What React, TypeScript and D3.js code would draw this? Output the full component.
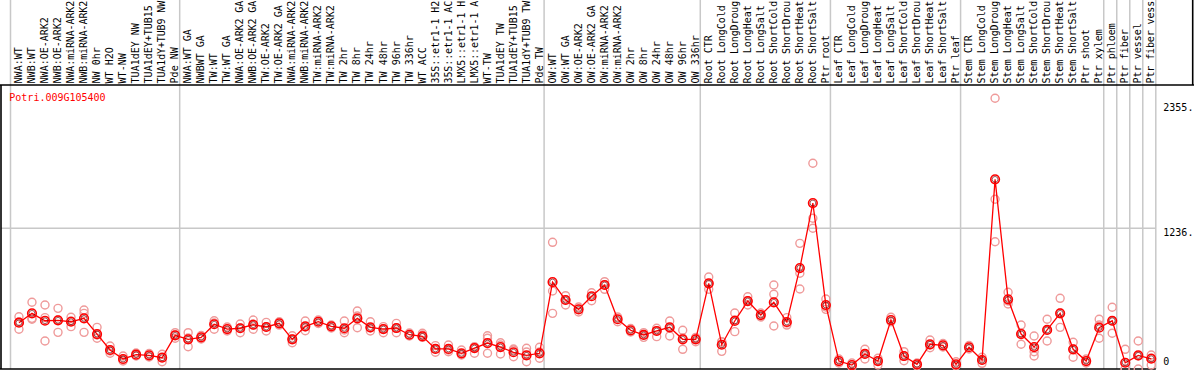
import React from 'react';
import * as d3 from 'd3';

const groupNW = ["NWA:WT","NWB:WT","NWA:OE-ARK2","NWB:OE-ARK2","NWA:miRNA-ARK2","NWB:miRNA-ARK2","NW 0hr","WT H2O","WT-NW","TUA1dEY NW","TUA1dEY+TUB15","TUA1dY+TUB9 NW","Pde NW"];
const groupTW = ["NWA:WT GA","NWBWT GA","TW:WT","TW:WT GA","NWA:OE-ARK2 GA","NWB:OE-ARK2 GA","TW:OE-ARK2","TW:OE-ARK2 GA","NWA:miRNA-ARK2","NWB:miRNA-ARK2","TW:miRNA-ARK2","TW:miRNA-ARK2","TW 2hr","TW 8hr","TW 24hr","TW 48hr","TW 96hr","TW 336hr","WT ACC","35S::etr1-1 H2","35S::etr1-1 AC","LMX5::etr1-1 H","LMX5::etr1-1 A","WT-TW","TUA1dEY TW","TUA1dEY+TUB15","TUA1dY+TUB9 TW","Pde TW"];
const groupOW = ["OW:WT","OW:WT GA","OW:OE-ARK2","OW:OE-ARK2 GA","OW:miRNA-ARK2","OW:miRNA-ARK2","OW 2hr","OW 8hr","OW 24hr","OW 48hr","OW 96hr","OW 336hr"];
const groupRoot = ["Root CTR","Root LongCold","Root LongDroug","Root LongHeat","Root LongSalt","Root ShortCold","Root ShortDrou","Root ShortHeat","Root ShortSalt","Ptr root"];
const groupLeaf = ["Leaf CTR","Leaf LongCold","Leaf LongDroug","Leaf LongHeat","Leaf LongSalt","Leaf ShortCold","Leaf ShortDrou","Leaf ShortHeat","Leaf ShortSalt","Ptr leaf"];
const groupStem = ["Stem CTR","Stem LongCold","Stem LongDroug","Stem LongHeat","Stem LongSalt","Stem ShortCold","Stem ShortDrou","Stem ShortHeat","Stem ShortSalt","Ptr shoot","Ptr xylem"];
const groupPhloem = ["Ptr phloem"];
const groupFiber = ["Ptr fiber"];
const groupVessel = ["Ptr vessel"];
const groupFiberVessel = ["Ptr fiber vess"];

const groups = [groupNW, groupTW, groupOW, groupRoot, groupLeaf, groupStem, groupPhloem, groupFiber, groupVessel, groupFiberVessel];
const categories = groups.flat();

const geneName = "Potri.009G105400";
const axisLabels = [2355, 1236, 0];
const gridValues = [1236];

const means = [
  407, 489, 424, 428, 415, 445, 307, 167, 88, 126, 120, 99, 296,
  261, 278, 393, 351, 358, 389, 369, 401, 261, 375, 415, 375, 358, 445, 366, 351, 360, 301, 287, 176, 176, 138, 184, 228, 193, 147, 120, 138,
  764, 606, 524, 639, 738, 437, 340, 299, 334, 366, 261, 261,
  753, 213, 422, 597, 474, 586, 413, 887, 1458, 562,
  70, 35, 132, 70, 430, 114, 41, 217, 208, 41,
  191, 79, 1666, 612, 307, 193, 343, 489, 173, 70, 363,
  424, 55, 120, 90
];

const reps = [
  [459, 413, 349], [586, 445, 437], [562, 451, 246], [533, 430, 322], [454, 422, 372], [518, 489, 322], [366, 299, 270], [202, 158, 138], [114, 79, 70], [141, 114], [136, 105], [129, 105, 64], [319, 299, 270],
  [319, 272, 196], [294, 264], [424, 404, 349], [369, 334], [395, 360, 319], [430, 386, 349], [410, 369, 334], [415, 386], [292, 264, 231], [422, 369, 336], [430, 400], [386, 360], [422, 343, 319], [509, 466, 363], [415, 360, 334], [372, 351, 319], [401, 360, 319], [316, 290], [314, 299, 278], [205, 176, 147], [211, 167, 152], [167, 132, 123], [196, 184, 138], [292, 270, 138], [231, 211, 132], [176, 167, 108], [182, 149, 64], [191, 149, 94],
  [1113, 685, 489], [644, 606, 562], [545, 501], [670, 600], [767, 738, 700], [457, 415], [356, 325], [319, 299, 278], [358, 334, 284], [422, 360, 290], [340, 272, 173], [278, 264, 240],
  [808, 747, 700], [240, 237, 155], [492, 430, 328], [635, 597, 562], [492, 457], [738, 656, 378], [451, 404, 386], [1104, 841, 703], [1807, 1324, 1236], [615, 545, 524],
  [88, 53], [53, 18], [173, 132, 88], [94, 70, 35], [454, 415], [152, 114, 73], [53, 26], [255, 211, 187], [224, 193], [64, 26],
  [206, 176], [103, 79, 50], [2378, 1491, 1118], [674, 597, 571], [386, 316, 217], [290, 152, 114], [437, 343, 246], [621, 492, 366], [235, 176, 103], [88, 53], [437, 386, 270],
  [542, 422, 314], [173, 0, 0], [246, 114, 0], [123, 97, 35]
];

const W = 1194;
const H = 370;
const plotLeft = 10.5;
const plotRight = 1155.8;
const headerY = 85;
const bottomY = 369;

export default function App() {
  const x = d3.scaleBand<number>().domain(d3.range(categories.length)).range([plotLeft, plotRight]).padding(0);
  const bw = x.bandwidth();
  const px = (i: number) => (x(i) as number) + bw * 0.65;
  const y = d3.scaleLinear().domain([0, 1236]).range([bottomY, 228.3]);

  const boundaries: number[] = [0];
  let acc = 0;
  groups.forEach((g) => { acc += g.length; boundaries.push(acc); });
  const bx = (k: number) => (k < categories.length ? (x(k) as number) : plotRight);

  const line = d3.line<number>().x((_, i) => px(i)).y((d) => y(d));

  const repColor = '#ef9a9a';
  const red = '#ff0000';

  return (
    <svg width={W} height={H} style={{ position: 'absolute', left: 0, top: 0, background: '#fff' }} fontFamily="'DejaVu Sans Mono', monospace" fontSize={10}>
      <rect x={0} y={0} width={W} height={H} fill="#fff" />
      {boundaries.map((k, i) => (
        <line key={'v' + i} x1={bx(k)} x2={bx(k)} y1={0} y2={bottomY} stroke="#c8c8c8" strokeWidth={1.5} />
      ))}
      {gridValues.map((v) => (
        <line key={'h' + v} x1={1} x2={plotRight} y1={y(v)} y2={y(v)} stroke="#c8c8c8" strokeWidth={1.5} />
      ))}
      <line x1={0} x2={W} y1={headerY} y2={headerY} stroke="#000" strokeWidth={1.6} />
      <line x1={1} x2={1} y1={headerY} y2={bottomY} stroke="#000" strokeWidth={1.6} />
      <line x1={0} x2={plotRight} y1={bottomY} y2={bottomY} stroke="#000" strokeWidth={1.6} />
      <line x1={W - 1.3} x2={W - 1.3} y1={0} y2={headerY} stroke="#000" strokeWidth={1.6} />
      {categories.map((c, i) => (
        <text
          key={'c' + i}
          transform={`translate(${(x(i) as number) + 11.6},83.4) rotate(-90)`}
          fill="#000"
          {...(c.length >= 14 ? { textLength: 82.6, lengthAdjust: 'spacing' } : {})}
        >{c}</text>
      ))}
      {reps.map((rs, i) => rs.map((r, j) => (
        <circle key={`r${i}-${j}`} cx={px(i)} cy={y(r)} r={4} fill="none" stroke={repColor} strokeWidth={1.4} />
      )))}
      <path d={line(means) || ''} fill="none" stroke={red} strokeWidth={1.3} />
      {means.map((m, i) => (
        <g key={'m' + i}>
          <circle cx={px(i)} cy={y(m)} r={4.3} fill="none" stroke={red} strokeWidth={1.6} />
          <circle cx={px(i)} cy={y(m)} r={2.9} fill="none" stroke="#600" strokeWidth={0.8} opacity={0.8} />
        </g>
      ))}
      <text x={9.3} y={100.7} fill={red}>{geneName}</text>
      {axisLabels.map((v) => {
        const yy = v === 0 ? y(v) - 4 : v === 2355 ? y(v) + 9.8 : y(v) + 7.4;
        return (
          <text key={'a' + v} x={1163.3} y={yy} fill="#000">{v === 0 ? '0' : v + '.'}</text>
        );
      })}
    </svg>
  );
}
